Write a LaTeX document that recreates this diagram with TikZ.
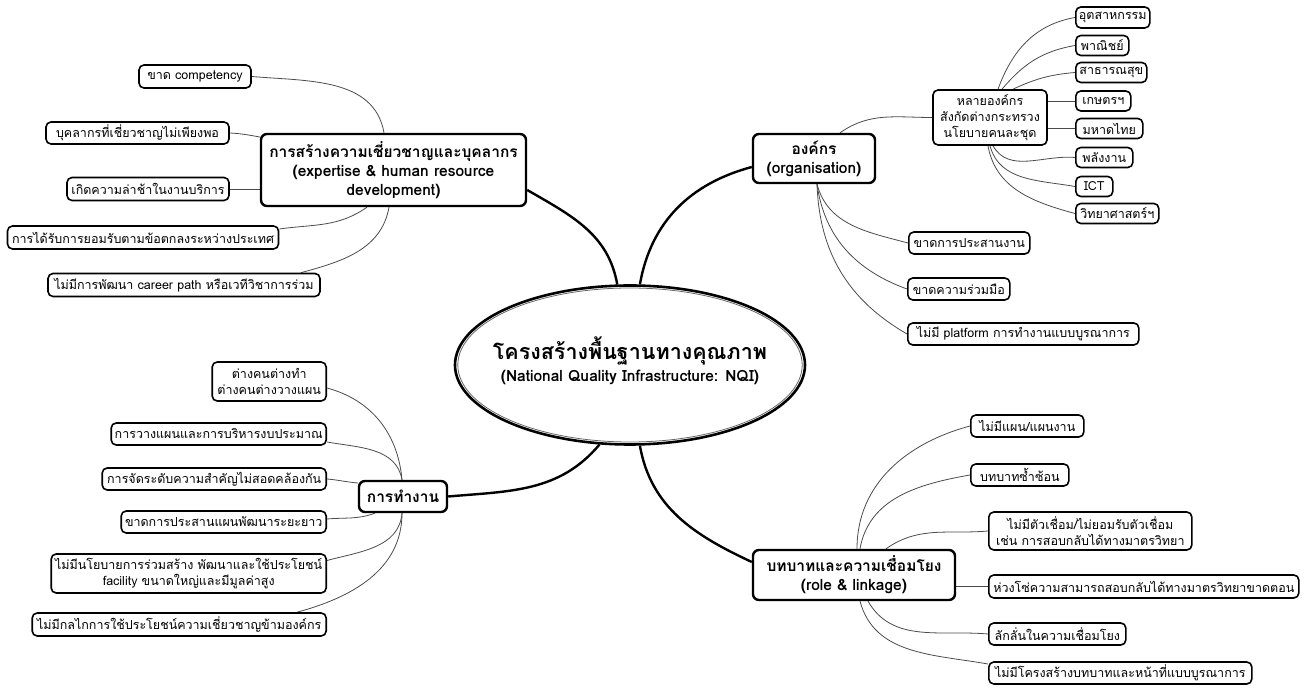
\documentclass[tikz,border=0pt]{standalone}
\usepackage{fontspec}
\setmainfont{Loma}[Script=Thai]
\usetikzlibrary{shapes.geometric,backgrounds}
\begin{document}
\begin{tikzpicture}[x=1pt,y=1pt,
  leaf/.style={draw=black, line width=1.6pt, rounded corners=5pt, fill=white,
    align=center, inner xsep=3pt, inner ysep=1pt,
    font=\fontsize{12.5}{16}\selectfont},
  branch/.style={draw=black, line width=2.4pt, rounded corners=6pt, fill=white,
    align=center, inner xsep=4pt, inner ysep=2pt,
    font=\bfseries\fontsize{15.5}{19}\selectfont},
  sz/.style 2 args={minimum width=#1pt, minimum height=#2pt},
  link/.style={draw=black!70, line width=0.8pt},
  trunk/.style={draw=black, line width=2.4pt},
]
\useasboundingbox (0,0) rectangle (1313,690);

% centre: ring with a thin inner line, title set on top
\node[ellipse, draw=black, line width=2.6pt, fill=white, sz={350}{159},
      inner sep=0pt] (c) at (630,325) {};
\draw[black!60, line width=0.8pt] (c.center) ellipse [x radius=172.2, y radius=77];
\node[align=center, inner sep=0pt] (ct) at ([yshift=4pt]c.center)
  {{\bfseries\fontsize{21.5}{24}\selectfont โครงสร้างพื้นฐานทางคุณภาพ}\\[4pt]
   {\bfseries\fontsize{15.5}{18}\selectfont (National Quality Infrastructure: NQI)}};

% main branches
\node[branch, sz={265}{72}] (b1) at (393.5,520)
  {การสร้างความเชี่ยวชาญและบุคลากร\\(expertise \& human resource\\development)};
\node[branch, sz={122}{49}] (b2) at (814,531.5) {องค์กร\\(organisation)};
\node[branch, sz={88}{31}] (b3) at (403,193.5) {การทำงาน};
\node[branch, sz={202}{50}] (b4) at (854,115) {บทบาทและความเชื่อมโยง\\(role \& linkage)};

% expertise & human resource
\node[leaf, sz={112}{23}] (e1) at (195,613.5) {ขาด competency};
\node[leaf, sz={183}{22}] (e2) at (137.5,557) {บุคลากรที่เชี่ยวชาญไม่เพียงพอ};
\node[leaf, sz={162}{23}] (e3) at (148,501) {เกิดความล่าช้าในงานบริการ};
\node[leaf, sz={271}{23}] (e4) at (143,452.5) {การได้รับการยอมรับตามข้อตกลงระหว่างประเทศ};
\node[leaf, sz={272}{23}] (e5) at (184,405) {ไม่มีการพัฒนา career path หรือเวทีวิชาการร่วม};

% organisation
\node[leaf, sz={114}{55}] (o0) at (990,572.5) {หลายองค์กร\\สังกัดต่างกระทรวง\\นโยบายคนละชุด};
\node[leaf, sz={74}{21}, anchor=west] (o1) at (1075,672.5) {อุตสาหกรรม};
\node[leaf, sz={53}{20}, anchor=west] (o2) at (1075,644.5) {พาณิชย์};
\node[leaf, sz={71}{20}, anchor=west] (o3) at (1075,617.5) {สาธารณสุข};
\node[leaf, sz={55}{20}, anchor=west] (o4) at (1075,589) {เกษตรฯ};
\node[leaf, sz={67}{20}, anchor=west] (o5) at (1075,561.5) {มหาดไทย};
\node[leaf, sz={57}{20}, anchor=west] (o6) at (1075,532.5) {พลังงาน};
\node[leaf, sz={37}{20}, anchor=west] (o7) at (1075,503.5) {ICT};
\node[leaf, sz={83}{20}, anchor=west] (o8) at (1075,476.5) {วิทยาศาสตร์ฯ};
\node[leaf, sz={121}{22}, anchor=west] (o9) at (908,447) {ขาดการประสานงาน};
\node[leaf, sz={102}{22}, anchor=west] (o10) at (907,401) {ขาดความร่วมมือ};
\node[leaf, sz={231}{22}, anchor=west] (o11) at (907,356) {ไม่มี platform การทำงานแบบบูรณาการ};

% working practice
\node[leaf, sz={114}{39}, anchor=east] (w1) at (327,308.5) {ต่างคนต่างทำ\\ต่างคนต่างวางแผน};
\node[leaf, sz={215}{22}, anchor=east] (w2) at (327,256) {การวางแผนและการบริหารงบประมาณ};
\node[leaf, sz={224}{22}, anchor=east] (w3) at (327,211) {การจัดระดับความสำคัญไม่สอดคล้องกัน};
\node[leaf, sz={205}{22}, anchor=east] (w4) at (327,168) {ขาดการประสานแผนพัฒนาระยะยาว};
\node[leaf, sz={275}{39}, anchor=east] (w5) at (327,116.5) {ไม่มีนโยบายการร่วมสร้าง พัฒนาและใช้ประโยชน์\\facility ขนาดใหญ่และมีมูลค่าสูง};
\node[leaf, sz={294}{23}, anchor=east] (w6) at (327,65.5) {ไม่มีกลไกการใช้ประโยชน์ความเชี่ยวชาญข้ามองค์กร};

% role & linkage
\node[leaf, sz={113}{22}, anchor=west] (r1) at (970,264) {ไม่มีแผน/แผนงาน};
\node[leaf, sz={98}{22}, anchor=west] (r2) at (970,215) {บทบาทซ้ำซ้อน};
\node[leaf, sz={203}{38}, anchor=west] (r3) at (988,159) {ไม่มีตัวเชื่อม/ไม่ยอมรับตัวเชื่อม\\เช่น การสอบกลับได้ทางมาตรวิทยา};
\node[leaf, sz={310}{23}, anchor=west] (r4) at (988,103.5) {ห่วงโซ่ความสามารถสอบกลับได้ทางมาตรวิทยาขาดตอน};
\node[leaf, sz={137}{22}, anchor=west] (r5) at (988,56) {ลักลั่นในความเชื่อมโยง};
\node[leaf, sz={263}{22}, anchor=west] (r6) at (988,17) {ไม่มีโครงสร้างบทบาทและหน้าที่แบบบูรณาการ};

\begin{scope}[on background layer]
  \fill[white] (0,0) rectangle (1313,690);
  % centre to branches
  \draw[trunk] (c.99) to[out=100,in=-30] ([yshift=-20pt]b1.east);
  \draw[trunk] (c.83.5) to[out=80,in=195] ([yshift=-8.5pt]b2.west);
  \draw[trunk] (c.249) to[out=230,in=5] (b3.east);
  \draw[trunk] (c.277) to[out=-80,in=155] ([yshift=13pt]b4.west);
  % expertise
  \draw[link] (e1.east) to[out=-5,in=100] ([xshift=-9.5pt]b1.north);
  \draw[link] (e2.east) to[out=-3,in=170] ([yshift=33pt]b1.west);
  \draw[link] (e3.east) -- (e3.east -| b1.west);
  \draw[link] ([yshift=8.5pt]e4.east) to[out=8,in=-145] ([xshift=-26.5pt]b1.south);
  \draw[link] ([xshift=-20pt]e5.north east) to[out=15,in=-100] ([xshift=-4.5pt]b1.south);
  % organisation
  \draw[link] ([xshift=26pt]b2.north) to[out=35,in=180] (o0.west);
  \draw[link] ([xshift=3pt]b2.south) to[out=-75,in=165] (o9.west);
  \draw[link] ([xshift=3pt]b2.south) to[out=-82,in=160] (o10.west);
  \draw[link] ([xshift=3pt]b2.south) to[out=-88,in=150] (o11.west);
  \draw[link] ([xshift=8pt]o0.north) to[out=70,in=190] (o1.west);
  \draw[link] ([xshift=12pt]o0.north) to[out=50,in=190] (o2.west);
  \draw[link] ([xshift=23pt]o0.north) to[out=25,in=185] (o3.west);
  \draw[link] (o0.east |- o4.west) -- (o4.west);
  \draw[link] (o0.east |- o5.west) -- (o5.west);
  \draw[link] ([xshift=3pt]o0.south) to[out=-60,in=175] (o6.west);
  \draw[link] (o0.south) to[out=-75,in=170] (o7.west);
  \draw[link] ([xshift=-2pt]o0.south) to[out=-80,in=165] (o8.west);
  % working practice
  \draw[link] ([yshift=-6.5pt]w1.east) to[out=-15,in=95] ([xshift=-1pt]b3.north);
  \draw[link] ([yshift=-8pt]w2.east) to[out=-10,in=100] ([xshift=-1pt]b3.north);
  \draw[link] (w3.east) to[out=-5,in=175] ([yshift=13.5pt]b3.west);
  \draw[link] ([yshift=3pt]w4.east) to[out=5,in=200] ([xshift=-28pt]b3.south);
  \draw[link] ([yshift=13pt]w5.east) to[out=15,in=-95] ([xshift=-1pt]b3.south);
  \draw[link] ([xshift=-30pt]w6.north east) to[out=15,in=-90] ([xshift=-1pt]b3.south);
  % role & linkage
  \draw[link] ([xshift=3pt]b4.north) to[out=90,in=195] (r1.west);
  \draw[link] ([xshift=6pt]b4.north) to[out=80,in=190] (r2.west);
  \draw[link] ([xshift=32pt]b4.north) to[out=35,in=185] (r3.west);
  \draw[link] (b4.east |- r4.west) -- (r4.west);
  \draw[link] ([xshift=14pt]b4.south) to[out=-60,in=175] (r5.west);
  \draw[link] ([xshift=6pt]b4.south) to[out=-75,in=170] ([yshift=9pt]r6.west);
\end{scope}
\end{tikzpicture}
\end{document}
